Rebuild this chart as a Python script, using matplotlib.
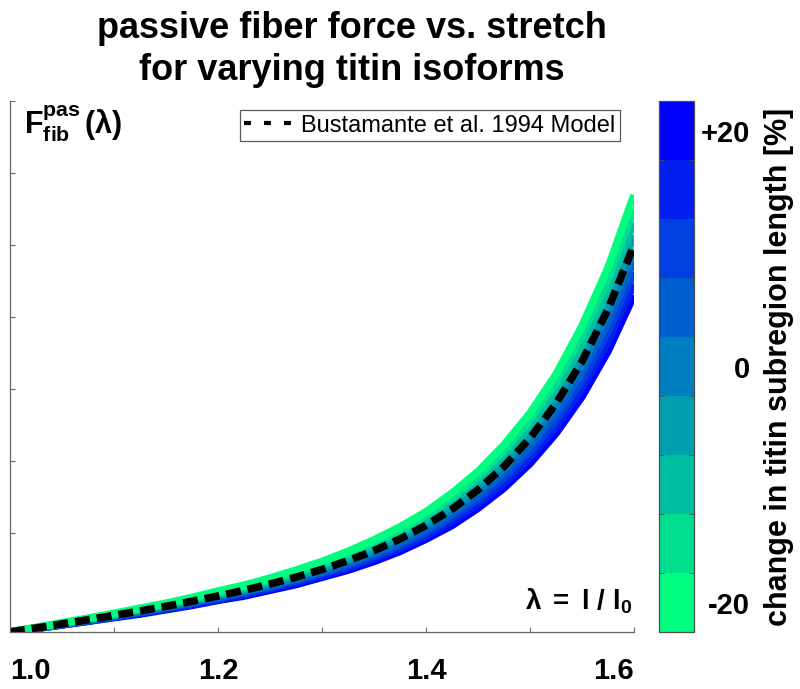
import numpy as np
import matplotlib
matplotlib.use("Agg")
import matplotlib.pyplot as plt
import matplotlib.colors as mcolors
from matplotlib.lines import Line2D

plt.rcParams['font.family'] = ['Liberation Sans', 'DejaVu Sans']
plt.rcParams['mathtext.fontset'] = 'custom'
plt.rcParams['mathtext.rm'] = 'Liberation Sans'
plt.rcParams['mathtext.bf'] = 'Liberation Sans:bold'
plt.rcParams['mathtext.it'] = 'Liberation Sans:italic'
plt.rcParams['lines.scale_dashes'] = False

# stretch lambda = l / l0
stretch = [1.0, 1.025, 1.05, 1.075, 1.1, 1.125, 1.15, 1.175, 1.2, 1.225, 1.25, 1.275, 1.3,
           1.325, 1.35, 1.375, 1.4, 1.425, 1.45, 1.475, 1.5, 1.525, 1.55, 1.575, 1.6]

# Bustamante et al. 1994 model (arbitrary force units)
model = [0, 0.055, 0.112, 0.170, 0.230, 0.292, 0.357, 0.427, 0.500, 0.579, 0.666, 0.762, 0.869,
         0.990, 1.130, 1.292, 1.481, 1.706, 1.975, 2.299, 2.692, 3.171, 3.758, 4.482, 5.374]

# change in titin subregion length [%]
titin_change = [-20, -15, -10, -5, 0, 5, 10, 15, 20]

force_m20 = [0, 0.06, 0.13, 0.19, 0.26, 0.33, 0.40, 0.48, 0.57, 0.65, 0.75, 0.86, 0.98,
             1.12, 1.28, 1.46, 1.67, 1.93, 2.23, 2.60, 3.04, 3.58, 4.25, 5.06, 6.07]
force_m15 = [0, 0.06, 0.12, 0.19, 0.25, 0.32, 0.39, 0.47, 0.55, 0.63, 0.73, 0.83, 0.95,
             1.08, 1.24, 1.41, 1.62, 1.87, 2.16, 2.52, 2.95, 3.47, 4.12, 4.91, 5.88]
force_m10 = [0, 0.06, 0.12, 0.18, 0.24, 0.31, 0.38, 0.45, 0.53, 0.61, 0.71, 0.81, 0.92,
             1.05, 1.20, 1.37, 1.57, 1.81, 2.09, 2.44, 2.85, 3.36, 3.98, 4.75, 5.70]
force_m05 = [0, 0.06, 0.11, 0.17, 0.24, 0.30, 0.37, 0.44, 0.51, 0.59, 0.68, 0.78, 0.89,
             1.01, 1.16, 1.32, 1.52, 1.75, 2.02, 2.36, 2.76, 3.25, 3.85, 4.59, 5.51]
force_000 = [0, 0.05, 0.11, 0.17, 0.23, 0.29, 0.35, 0.42, 0.50, 0.57, 0.66, 0.75, 0.86,
             0.98, 1.12, 1.28, 1.47, 1.69, 1.96, 2.28, 2.67, 3.14, 3.72, 4.44, 5.32]
force_p05 = [0, 0.05, 0.11, 0.16, 0.22, 0.28, 0.34, 0.41, 0.48, 0.56, 0.64, 0.73, 0.83,
             0.95, 1.08, 1.24, 1.42, 1.64, 1.90, 2.21, 2.58, 3.04, 3.61, 4.30, 5.16]
force_p10 = [0, 0.05, 0.10, 0.16, 0.21, 0.27, 0.33, 0.40, 0.47, 0.54, 0.62, 0.71, 0.81,
             0.92, 1.05, 1.20, 1.38, 1.59, 1.84, 2.14, 2.50, 2.95, 3.49, 4.17, 5.00]
force_p15 = [0, 0.05, 0.10, 0.15, 0.21, 0.26, 0.32, 0.38, 0.45, 0.52, 0.60, 0.69, 0.78,
             0.89, 1.02, 1.16, 1.33, 1.54, 1.78, 2.07, 2.42, 2.85, 3.38, 4.03, 4.84]
force_p20 = [0, 0.05, 0.10, 0.15, 0.20, 0.25, 0.31, 0.37, 0.44, 0.50, 0.58, 0.66, 0.76,
             0.86, 0.98, 1.12, 1.29, 1.48, 1.72, 2.00, 2.34, 2.76, 3.27, 3.90, 4.68]

forces = [force_m20, force_m15, force_m10, force_m05, force_000,
          force_p05, force_p10, force_p15, force_p20]

xtick_vals = [1.0, 1.1, 1.2, 1.3, 1.4, 1.5, 1.6]
xtick_text = ['1.0', '', '1.2', '', '1.4', '', '1.6']

# discrete winter colormap, green for -20 up to blue for +20
cmap = mcolors.ListedColormap(plt.cm.winter_r(np.linspace(0, 1, len(titin_change))))
bounds = np.arange(-22.5, 23, 5)
norm = mcolors.BoundaryNorm(bounds, cmap.N)

fig = plt.figure(figsize=(8, 6.89), dpi=100)
ax = fig.add_axes([0.0125, 0.0827, 0.78, 0.7707])

# blue first, green on top
for chg, f in reversed(list(zip(titin_change, forces))):
    ax.plot(stretch, f, color=cmap(norm(chg)), lw=5.5, solid_capstyle='butt',
            solid_joinstyle='round')

ax.plot(stretch, model, color='k', lw=5.5, dashes=(10.8, 5), dash_capstyle='butt')

ax.set_xlim(1.0, 1.6)
ax.set_ylim(0, 7.375)
ax.set_yticks(np.arange(1.375, 7.4, 1.0))
ax.set_yticklabels([])
ax.set_xticks(xtick_vals)
ax.set_xticklabels(xtick_text, fontsize=21, fontweight='bold')
ax.get_xticklabels()[0].set_ha('left')
ax.get_xticklabels()[-1].set_ha('right')
ax.tick_params(direction='in', length=3.6, color='0.4')
ax.tick_params(axis='x', pad=18)
for s in ['top', 'right']:
    ax.spines[s].set_visible(False)
for s in ['left', 'bottom']:
    ax.spines[s].set_color('0.4')
    ax.spines[s].set_linewidth(0.9)

leg_line = Line2D([], [], color='k', lw=3, dashes=(5, 9.4))
leg = ax.legend([leg_line], ['Bustamante et al. 1994 Model'], loc='upper right',
                bbox_to_anchor=(0.9776, 0.983), fontsize=17, fancybox=False,
                edgecolor='0.35', framealpha=1, borderpad=0.2, handlelength=2.0,
                handletextpad=0.4, borderaxespad=0)
leg.get_frame().set_linewidth(0.9)

fig.text(24 / 800, 1 - 133 / 689,
         r'$\mathbf{F}_{\mathbf{fib}}^{\mathbf{pas}}\,\mathbf{(\lambda)}$',
         fontsize=22, va='baseline', ha='left')
fig.text(632 / 800, 1 - 610 / 689, r'$\mathbf{\lambda\ =\ l\ /\ l_0}$',
         fontsize=20, va='baseline', ha='right')

fig.text(0.44, 0.984, 'passive fiber force vs. stretch\nfor varying titin isoforms',
         fontsize=26, fontweight='bold', ha='center', va='top', linespacing=1.25)

cax = fig.add_axes([0.8238, 0.0827, 0.0438, 0.7707])
sm = plt.cm.ScalarMappable(norm=norm, cmap=cmap)
cbar = fig.colorbar(sm, cax=cax, ticks=[-20, 0, 20])
cbar.ax.set_yticklabels(['-20', '0', '+20'], fontsize=21, fontweight='bold', ha='right')
cbar.ax.tick_params(length=0, pad=40)
cbar.outline.set_edgecolor('0.3')
cbar.outline.set_linewidth(0.9)
cbar.ax.yaxis.set_minor_locator(matplotlib.ticker.FixedLocator(bounds[1:-1]))
cbar.ax.tick_params(which='minor', length=3.6, direction='in', left=True, right=True, color='0.3')
cbar.set_label('change in titin subregion length [%]', fontsize=22, fontweight='bold', labelpad=10)

fig.savefig('out.png', dpi=100)
